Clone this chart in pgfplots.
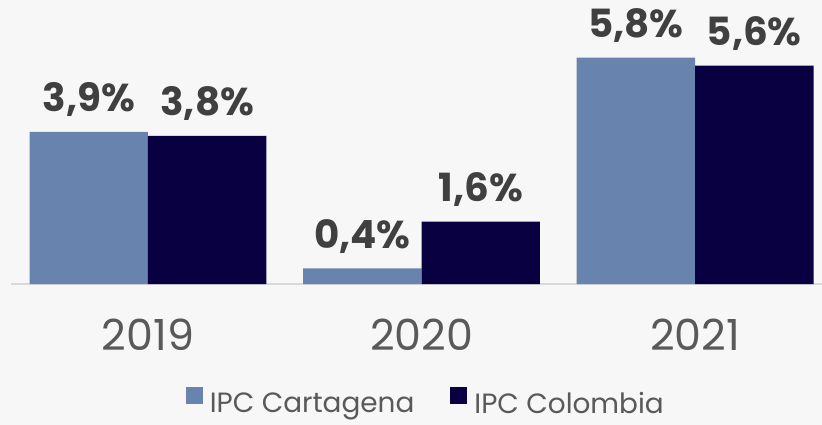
\documentclass[border=0pt]{standalone}
\usepackage{fontspec}
\setmainfont{Poppins}
\usepackage{pgfplots}
\pgfplotsset{compat=1.18}
\definecolor{bg}{HTML}{F7F7F7}
\definecolor{cart}{HTML}{6883AE}
\definecolor{colo}{HTML}{080040}
\definecolor{lbl}{HTML}{404040}
\definecolor{tick}{HTML}{595959}
\begin{document}
\begin{tikzpicture}
\fill[bg] (0,0) rectangle (822bp,425bp);
\path[use as bounding box] (0,0) rectangle (822bp,425bp);
\begin{axis}[
  at={(0,141bp)}, anchor=south west,
  scale only axis, width=822bp, height=284bp,
  xmin=-0.541, xmax=2.464, ymin=0, ymax=7.28,
  ybar=0pt, bar width=0.433,
  axis lines=none,
  clip=false,
  xtick={0,1,2}, xticklabels={2019,2020,2021},
  ytick=\empty,
  /pgf/number format/assume math mode=true,
  nodes near coords={\pgfmathprintnumber[use comma,fixed,fixed zerofill,precision=1]{\pgfplotspointmeta}\%},
  every node near coord/.append style={font=\fontsize{39}{42}\selectfont\bfseries, text=lbl, anchor=base, yshift=20bp, inner sep=0pt},
  legend columns=2,
  legend style={at={(0.518,-0.415)}, anchor=center, draw=none, fill=none,
    font=\fontsize{28}{32}\selectfont, text=tick,
    /tikz/every even column/.append style={column sep=34bp}},
  legend image code/.code={\fill[#1] (0bp,0bp) rectangle (17bp,17bp); \path (22bp,0bp);},
]
\draw[black!15, line width=1.2bp] (axis cs:-0.5,0) -- (axis cs:2.464,0);
\node[font=\fontsize{43}{48}\selectfont, text=tick, anchor=north, inner sep=0pt] at (axis cs:0,-0.88) {2019};
\node[font=\fontsize{43}{48}\selectfont, text=tick, anchor=north, inner sep=0pt] at (axis cs:1,-0.88) {2020};
\node[font=\fontsize{43}{48}\selectfont, text=tick, anchor=north, inner sep=0pt] at (axis cs:2,-0.88) {2021};
\addplot[fill=cart, draw=none] coordinates {(0,3.9) (1,0.4) (2,5.8)};
\addplot[fill=colo, draw=none] coordinates {(0,3.8) (1,1.6) (2,5.6)};
\legend{IPC Cartagena, IPC Colombia}
\end{axis}
\end{tikzpicture}
\end{document}
